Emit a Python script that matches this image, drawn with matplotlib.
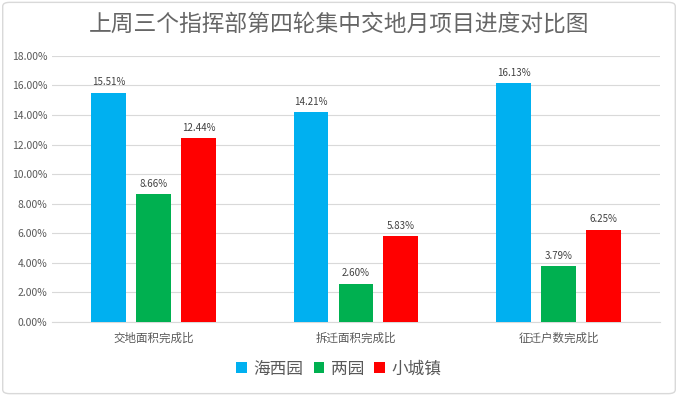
import numpy as np
import matplotlib.pyplot as plt
from matplotlib.patches import FancyBboxPatch
from matplotlib.ticker import FuncFormatter

plt.rcParams['font.family'] = ['Noto Sans CJK SC', 'DejaVu Sans']

title = '上周三个指挥部第四轮集中交地月项目进度对比图'
categories = ['交地面积完成比', '拆迁面积完成比', '征迁户数完成比']
series_names = ['海西园', '两园', '小城镇']
haixi = [15.51, 14.21, 16.13]
liangyuan = [8.66, 2.60, 3.79]
xiaocheng = [12.44, 5.83, 6.25]
colors = ['#00B0F0', '#00B050', '#FF0000']

fig = plt.figure(figsize=(6.78, 3.96), dpi=100)
ax = fig.add_axes([0.077, 0.187, 0.896, 0.672])

x = np.arange(len(categories))
w = 0.172
step = 0.222
for i, (name, vals) in enumerate(zip(series_names, [haixi, liangyuan, xiaocheng])):
    pos = x + (i - 1) * step
    bars = ax.bar(pos, vals, width=w, color=colors[i], label=name, zorder=3)
    for b, v in zip(bars, vals):
        ax.text(b.get_x() + b.get_width() / 2, v + 0.35, f'{v:.2f}%',
                ha='center', va='bottom', fontsize=7, color='#404040')

ax.set_xlim(-0.5, 2.5)
ax.set_ylim(0, 18)
ax.set_yticks(np.arange(0, 18.1, 2))
ax.yaxis.set_major_formatter(FuncFormatter(lambda v, p: f'{v:.2f}%'))
ax.set_xticks(x)
ax.set_xticklabels(categories)
ax.tick_params(axis='both', length=0, labelsize=7.5, colors='#595959')
ax.tick_params(axis='x', pad=7, labelsize=8.3)
ax.grid(axis='y', color='#D9D9D9', linewidth=0.8, zorder=0)
for s in ['top', 'right', 'left']:
    ax.spines[s].set_visible(False)
ax.spines['bottom'].set_color('#D9D9D9')

fig.text(0.5, 0.938, title, ha='center', va='center', fontsize=16.4, color='#666666')

leg = fig.legend(loc='center', bbox_to_anchor=(0.5, 0.068), ncol=3, frameon=False,
                 fontsize=12, handlelength=0.65, handleheight=0.65, handletextpad=0.4,
                 columnspacing=0.6)
for t in leg.get_texts():
    t.set_color('#595959')

border = FancyBboxPatch((0.004, 0.006), 0.992, 0.988, boxstyle='round,pad=0,rounding_size=0.01',
                        transform=fig.transFigure, fill=False, edgecolor='#D9D9D9', linewidth=1)
fig.patches.append(border)

fig.savefig('out.png', dpi=100)
